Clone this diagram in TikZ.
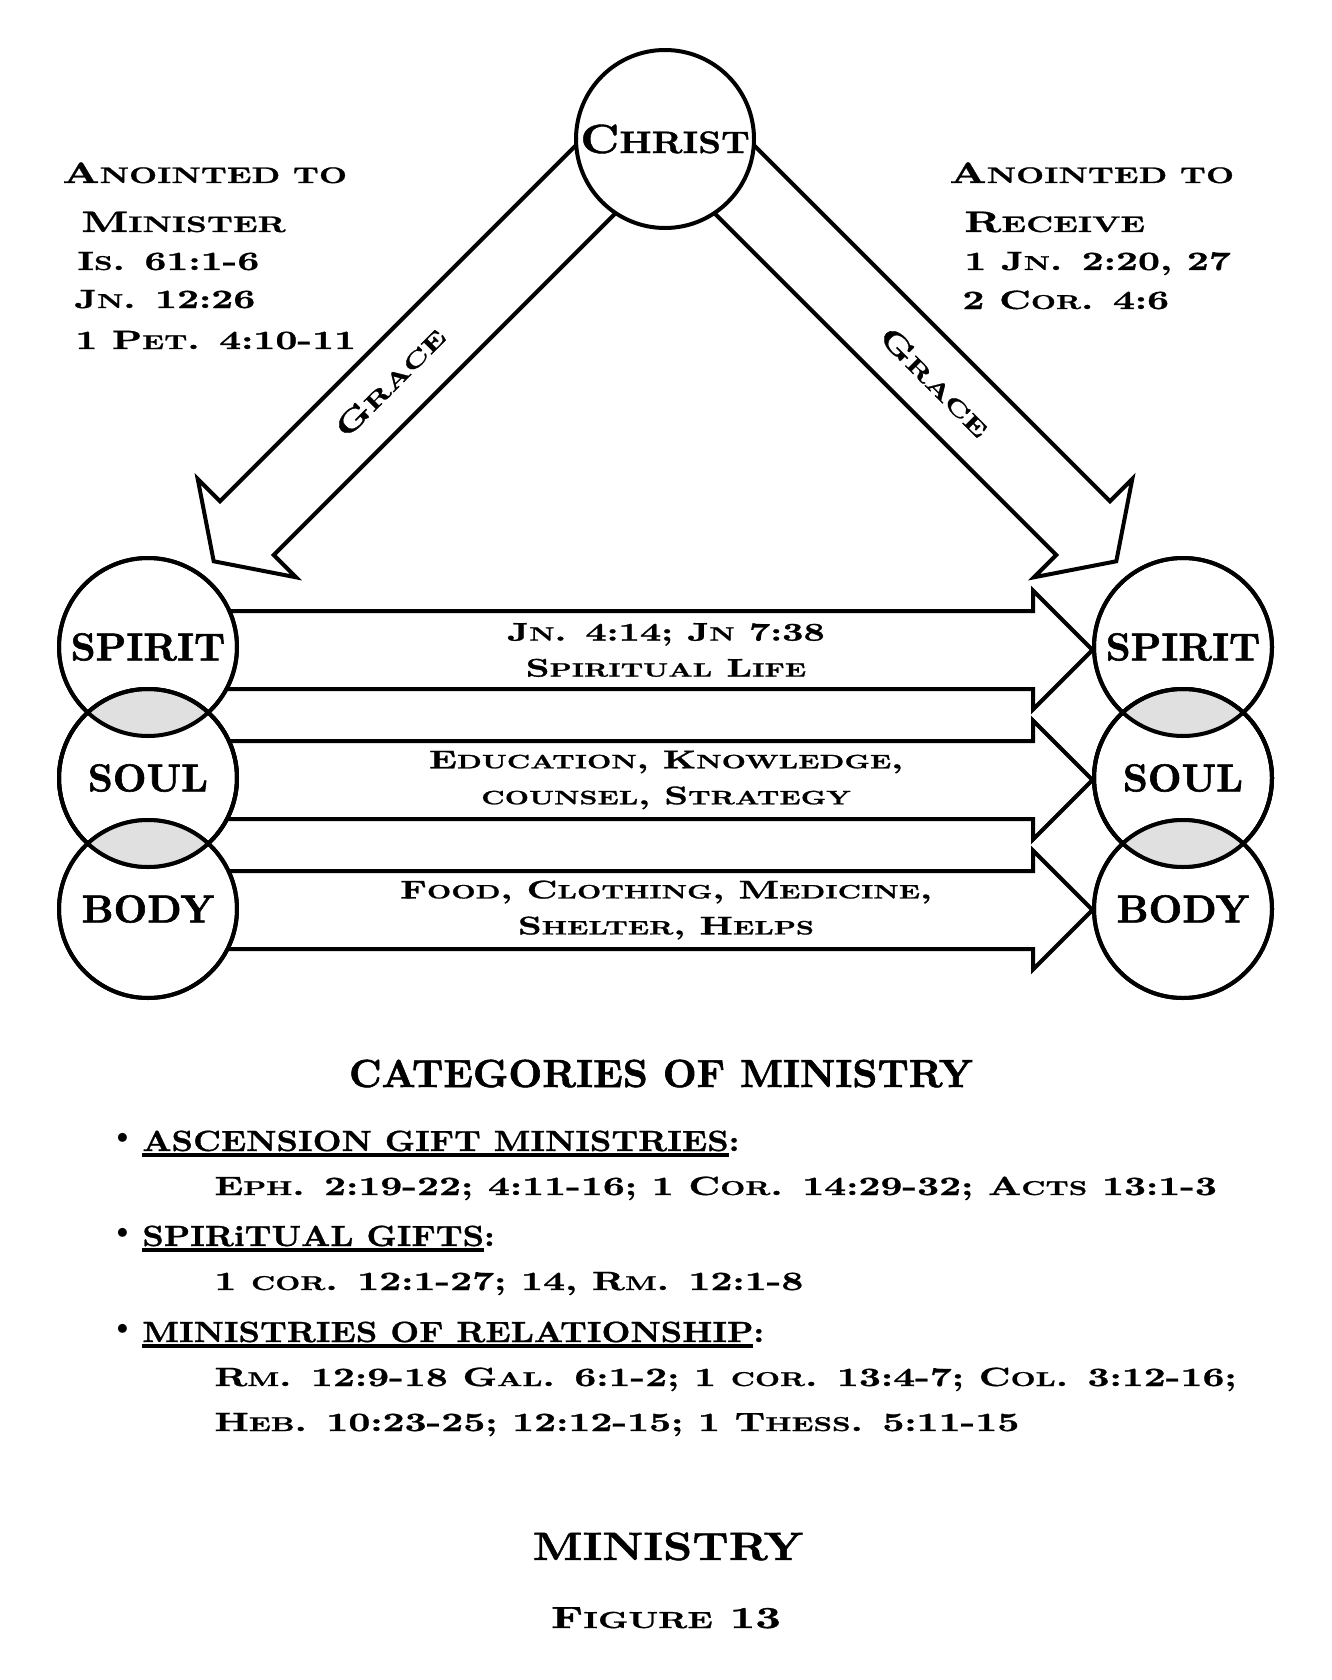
\documentclass[tikz,border=0pt]{standalone}
\usepackage{fontspec}
\usepackage{graphicx}
\usetikzlibrary{shapes.arrows}

\newfontfamily\widebf{lmroman10-bold.otf}[FakeStretch=1.45, FakeBold=1]
\newfontfamily\midbf{lmroman10-bold.otf}[FakeStretch=1.15, FakeBold=1]
\newfontfamily\plainbf{lmroman10-bold.otf}[FakeBold=1.5]
\newcommand{\sm}[1]{\scalebox{0.76}{#1}}
\newcommand{\uln}[1]{\setbox0=\hbox{#1}\rlap{\rule[-2.8pt]{\wd0}{1.6pt}}\box0}
\definecolor{lensgray}{gray}{0.88}

\begin{document}
\begin{tikzpicture}[
  x=0.5pt, y=-0.5pt,
  ring/.style={circle, draw, line width=2pt, fill=white, minimum size=89pt, inner sep=0pt, font=\plainbf\fontsize{19.5}{20}\selectfont},
  rim/.style={line width=2pt},
  gracearrow/.style={single arrow, draw, line width=2pt, fill=white, minimum height=277.5pt, inner xsep=0pt, inner ysep=18pt, single arrow head extend=15.75pt, single arrow tip angle=112},
  giftarrow/.style={single arrow, draw, line width=2pt, fill=white, minimum height=438.5pt, inner xsep=0pt, inner ysep=18.5pt, single arrow head extend=10.25pt, single arrow tip angle=90},
  gifttext/.style={inner sep=0pt, align=center, font=\widebf\fontsize{12.8}{18}\selectfont},
  gracetext/.style={inner sep=0pt, font=\widebf\fontsize{14.5}{15}\selectfont},
  head/.style={anchor=base west, inner sep=0pt, font=\widebf\fontsize{14.8}{16}\selectfont},
  scrip/.style={anchor=base west, inner sep=0pt, font=\widebf\fontsize{13.2}{16}\selectfont},
  item/.style={anchor=base west, inner sep=0pt, font=\midbf\fontsize{14.6}{16}\selectfont},
  dot/.style={inner sep=0pt, font=\fontsize{20}{20}\selectfont},
  title/.style={anchor=base, inner sep=0pt}
]
\useasboundingbox (0,0) rectangle (1332,1680);
\fill[white] (0,0) rectangle (1332,1680);

% grace from Christ
\node[gracearrow, rotate=45, shape border rotate=180] (grL) at (419,356) {};
\node[gracearrow, rotate=-45] (grR) at (911,356) {};
\node[ring, font=\midbf\fontsize{20.5}{20}\selectfont] (chr) at (665,139) {C\sm{HRIST}};
\node[gracetext, rotate=45] (gtL) at (390,382) {G\sm{RACE}};
\node[gracetext, rotate=-45] (gtR) at (935,382) {G\sm{RACE}};

% anointed
\node[head] (anL) at (62,183) {A\sm{NOINTED TO}};
\node[head] (minL) at (81,232) {M\sm{INISTER}};
\node[scrip] (isL) at (77,270) {I\sm{S}. 61:1-6};
\node[scrip] (jnL) at (74,308) {J\sm{N}. 12:26};
\node[scrip] (ptL) at (75,349) {1 P\sm{ET}. 4:10-11};
\node[head] (anR) at (949,183) {A\sm{NOINTED TO}};
\node[head] (recR) at (964,232) {R\sm{ECEIVE}};
\node[scrip] (jnR) at (964,270) {1 J\sm{N}. 2:20, 27};
\node[scrip] (coR) at (962,309) {2 C\sm{OR}. 4:6};

% ministry arrows
\node[giftarrow] (a1) at (634.5,650) {};
\node[giftarrow] (a2) at (634.5,780) {};
\node[giftarrow] (a3) at (634.5,910) {};
\node[gifttext] (t1) at (a1.center -| 666,0) {J\sm{N}. 4:14; J\sm{N} 7:38\\S\sm{PIRITUAL} L\sm{IFE}};
\node[gifttext] (t2) at (a2.center -| 666,0) {E\sm{DUCATION}, K\sm{NOWLEDGE},\\\sm{COUNSEL}, S\sm{TRATEGY}};
\node[gifttext] (t3) at (a3.center -| 666,0) {F\sm{OOD}, C\sm{LOTHING}, M\sm{EDICINE},\\S\sm{HELTER}, H\sm{ELPS}};

% spirit soul body
\node[ring] (spL) at (148,647) {SPIRIT};
\node[ring] (soL) at (148,778) {SOUL};
\node[ring] (boL) at (148,909) {BODY};
\node[ring] (spR) at (1183,647) {SPIRIT};
\node[ring] (soR) at (1183,778) {SOUL};
\node[ring] (boR) at (1183,909) {BODY};
\foreach \a/\b in {spL/soL, soL/boL, spR/soR, soR/boR} {
  \begin{scope}
    \clip (\a.center) circle[radius=44.5pt];
    \fill[lensgray] (\b.center) circle[radius=44.5pt];
  \end{scope}
  \draw[rim] (\a.center) circle[radius=44.5pt] (\b.center) circle[radius=44.5pt];
}

% categories
\node[title, font=\plainbf\fontsize{19.6}{20}\selectfont] (cat) at (661,1087) {CATEGORIES OF MINISTRY};
\node[dot] (b1) at (123,1141) {\textbullet};
\node[item] (i1) at (142,1151) {\uln{ASCENSION GIFT MINISTRIES}:};
\node[scrip] (r1) at (214,1195) {E\sm{PH}. 2:19-22; 4:11-16; 1 C\sm{OR}. 14:29-32; A\sm{CTS} 13:1-3};
\node[dot] (b2) at (123,1236) {\textbullet};
\node[item] (i2) at (142,1246) {\uln{SPIRiTUAL GIFTS}:};
\node[scrip] (r2) at (214,1290) {1 \sm{COR}. 12:1-27; 14, R\sm{M}. 12:1-8};
\node[dot] (b3) at (123,1332) {\textbullet};
\node[item] (i3) at (142,1342) {\uln{MINISTRIES OF RELATIONSHIP}:};
\node[scrip] (r3) at (214,1386) {R\sm{M}. 12:9-18 G\sm{AL}. 6:1-2; 1 \sm{COR}. 13:4-7; C\sm{OL}. 3:12-16;};
\node[scrip] (r4) at (214,1431) {H\sm{EB}. 10:23-25; 12:12-15; 1 T\sm{HESS}. 5:11-15};

\node[title, font=\midbf\fontsize{19.8}{20}\selectfont] (mini) at (668,1560) {MINISTRY};
\node[title, font=\widebf\fontsize{15.3}{16}\selectfont] (fig) at (666,1628) {F\sm{IGURE} 13};
\end{tikzpicture}
\end{document}
